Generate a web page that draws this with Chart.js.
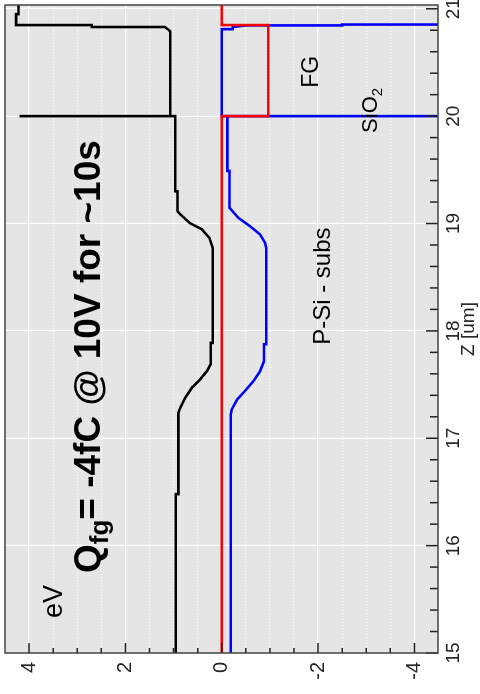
<!DOCTYPE html>
<html>
<head>
<meta charset="utf-8">
<title>Band diagram</title>
<script src="https://cdn.jsdelivr.net/npm/chart.js@4.4.1/dist/chart.umd.min.js"></script>
<style>
  html, body { margin: 0; padding: 0; background: #fff; }
  #wrap { position: relative; width: 480px; height: 694px; overflow: hidden; }
  /* chart is drawn landscape, then turned a quarter to the left */
  #chart { position: absolute; left: 0; top: 0; width: 694px; height: 480px;
           transform-origin: 0 0; transform: translateY(694px) rotate(-90deg); }
</style>
</head>
<body>
<div id="wrap"><canvas id="chart" width="694" height="480"></canvas></div>
<script>
// ---- Axis ranges ----
const zMin = 15, zMax = 21.035;      // depth, um
const eMin = -4.49, eMax = 4.5;      // energy, eV

// ---- Conduction band (black) ----
const ecZ = [15, 16.48, 16.48, 17.236, 17.28, 17.376, 17.47, 17.547, 17.624, 17.69, 17.888, 17.888,
             18.773, 18.866, 18.947, 19.003, 19.087, 19.115, 19.3, 19.3, 20, 20, 20,
             20.79, 20.81, 20.83, 20.83, 20.848, 20.848, 20.95, 20.95, 21.035];
const ecE = [0.954, 0.954, 0.90, 0.90, 0.865, 0.76, 0.62, 0.45, 0.31, 0.228, 0.228, 0.187,
             0.187, 0.257, 0.415, 0.66, 0.865, 0.92, 0.92, 0.965, 0.965, 4.2, 1.07,
             1.07, 1.12, 1.18, 2.7, 2.7, 4.27, 4.27, 4.22, 4.22];

// ---- Valence band (blue) ----
const evZ = [15, 17.22, 17.267, 17.36, 17.44, 17.53, 17.624, 17.717, 17.876, 17.876,
             18.773, 18.82, 18.898, 18.975, 19.053, 19.146, 19.49, 19.49, 20, 20, 20,
             20.81, 20.81, 20.83, 20.845, 20.845, 20.853, 20.853];
const evE = [-0.187, -0.187, -0.207, -0.32, -0.48, -0.656, -0.795, -0.878, -0.878, -0.925,
             -0.925, -0.90, -0.795, -0.587, -0.344, -0.16, -0.16, -0.116, -0.116, -5, 0,
             0, -0.23, -0.23, -0.5, -2.5, -2.5, -5];

// ---- Fermi level (red) ----
const efZ = [15, 20, 20, 20.848, 20.848, 21.035];
const efE = [0, 0, -0.967, -0.967, 0, 0];

// ---- Tick labels ----
const zLabels = [15, 16, 17, 18, 19, 20, 21];
const eLabels = [-4, -2, 0, 2, 4];

const FONT = '"Liberation Sans", Arial, Helvetica, sans-serif';

function pts(zs, es) {
    return zs.map((z, i) => ({ x: z, y: es[i] }));
}

function isMajorE(v) {
    return Math.abs(v / 2 - Math.round(v / 2)) < 1e-6;
}

// fixed axis box, no extra padding for edge labels
function fixBox(size, horizontal) {
    return s => {
        if (horizontal) s.height = size; else s.width = size;
        s.paddingTop = 0; s.paddingBottom = 0;
        s.paddingLeft = 0; s.paddingRight = 0;
    };
}

// ---- plot background, inward ticks, frame, annotations ----
const bandPlugin = {
    id: 'band',
    beforeDraw(chart) {
        const { ctx, chartArea: a } = chart;
        ctx.save();
        ctx.fillStyle = '#e5e5e5';
        ctx.fillRect(a.left, a.top, a.right - a.left, a.bottom - a.top);
        ctx.restore();
    },
    afterDatasetsDraw(chart) {
        const { ctx, chartArea: a, scales: { x, y } } = chart;
        ctx.save();

        // ticks point into the plot
        ctx.strokeStyle = '#222';
        ctx.lineWidth = 1.5;
        ctx.beginPath();
        for (let i = 0; i <= 30; i++) {
            const px = x.getPixelForValue(zMin + i * 0.2);
            const len = (i % 5 === 0) ? 12 : 8;
            ctx.moveTo(px, a.bottom);
            ctx.lineTo(px, a.bottom - len);
        }
        for (let i = -8; i <= 8; i++) {
            const py = y.getPixelForValue(i * 0.5);
            const len = isMajorE(i * 0.5) ? 10 : 5;
            ctx.moveTo(a.left, py);
            ctx.lineTo(a.left + len, py);
        }
        ctx.stroke();

        // frame
        ctx.strokeStyle = '#444';
        ctx.lineWidth = 1.5;
        ctx.strokeRect(a.left, a.top, a.right - a.left, a.bottom - a.top);

        // annotations
        ctx.fillStyle = '#000';
        ctx.textAlign = 'left';
        ctx.textBaseline = 'alphabetic';

        // title with subscript
        let tx = x.getPixelForValue(15.745);
        const ty = y.getPixelForValue(2.525);
        ctx.font = 'bold 37px ' + FONT;
        ctx.fillText('Q', tx, ty);
        tx += ctx.measureText('Q').width;
        ctx.font = 'bold 26px ' + FONT;
        ctx.fillText('fg', tx, ty + 8);
        tx += ctx.measureText('fg').width;
        ctx.font = 'bold 37px ' + FONT;
        ctx.fillText('= -4fC @ 10V for ~10s', tx, ty);

        ctx.font = '27px ' + FONT;
        ctx.fillText('eV', x.getPixelForValue(15.326), y.getPixelForValue(3.313));

        ctx.font = '24px ' + FONT;
        ctx.fillText('P-Si - subs', x.getPixelForValue(17.87), y.getPixelForValue(-2.25));

        ctx.font = '23px ' + FONT;
        ctx.fillText('FG', x.getPixelForValue(20.264), y.getPixelForValue(-2.0));

        let sx = x.getPixelForValue(19.844);
        const sy = y.getPixelForValue(-3.22);
        ctx.font = '22px ' + FONT;
        ctx.fillText('SiO', sx, sy);
        sx += ctx.measureText('SiO').width;
        ctx.font = '15px ' + FONT;
        ctx.fillText('2', sx, sy + 5);

        ctx.restore();
    }
};

const ctx = document.getElementById('chart').getContext('2d');
new Chart(ctx, {
    type: 'line',
    data: {
        datasets: [
            { label: 'Ef', data: pts(efZ, efE), borderColor: '#ff0000', borderWidth: 2.6 },
            { label: 'Ev', data: pts(evZ, evE), borderColor: '#0000ff', borderWidth: 2.6 },
            { label: 'Ec', data: pts(ecZ, ecE), borderColor: '#000000', borderWidth: 2.6 }
        ]
    },
    options: {
        responsive: false,
        animation: false,
        devicePixelRatio: 1,
        layout: { autoPadding: false, padding: { top: 5, right: 5, bottom: 0, left: 0 } },
        elements: {
            point: { radius: 0 },
            line: { tension: 0, borderJoinStyle: 'miter', fill: false }
        },
        plugins: { legend: { display: false }, tooltip: { enabled: false } },
        scales: {
            x: {
                type: 'linear',
                min: zMin,
                max: zMax,
                afterFit: fixBox(42, true),
                ticks: {
                    stepSize: 1,
                    includeBounds: false,
                    autoSkip: false,
                    maxRotation: 0,
                    padding: 4,
                    color: '#222',
                    font: { family: FONT, size: 19 },
                    callback: v => zLabels.includes(v) ? String(v) : ''
                },
                grid: { drawTicks: false, color: 'rgba(255,255,255,0.95)', lineWidth: 1.2 },
                border: { display: false },
                title: {
                    display: true,
                    text: 'Z [um]',
                    color: '#222',
                    font: { family: FONT, size: 19 },
                    padding: { top: 0, bottom: 0 }
                }
            },
            y: {
                type: 'linear',
                min: eMin,
                max: eMax,
                afterFit: fixBox(41, false),
                ticks: {
                    stepSize: 0.5,
                    includeBounds: false,
                    autoSkip: false,
                    padding: 9,
                    color: '#222',
                    font: { family: FONT, size: 20 },
                    callback: v => eLabels.includes(v) ? String(v) : ''
                },
                grid: { drawTicks: false, color: 'rgba(255,255,255,0.95)', lineWidth: 1.2 },
                border: {
                    display: false,
                    dash: c => (c.tick && !isMajorE(c.tick.value)) ? [1, 2] : []
                }
            }
        }
    },
    plugins: [bandPlugin]
});
</script>
</body>
</html>
